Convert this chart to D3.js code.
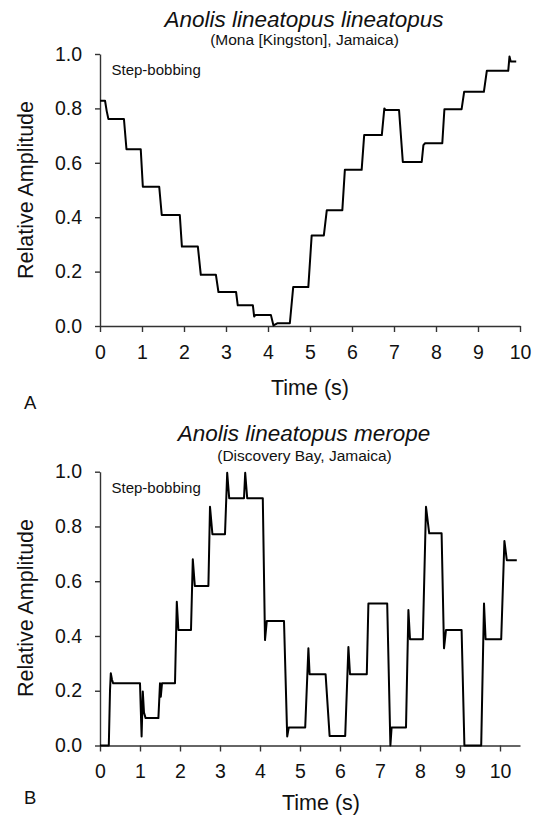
<!DOCTYPE html>
<html>
<head>
<meta charset="utf-8">
<script src="https://cdn.jsdelivr.net/npm/d3@7"></script>
<style>
  html, body { margin: 0; padding: 0; background: #fff; }
  svg { display: block; font-family: "Liberation Sans", Arial, Helvetica, sans-serif; }
</style>
</head>
<body>
<svg id="chart" width="536" height="816"></svg>
<script>
// ---------- DATA ----------
const xTicks = [0, 1, 2, 3, 4, 5, 6, 7, 8, 9, 10];
const yTicks = [0.0, 0.2, 0.4, 0.6, 0.8, 1.0];

// Panel A: Anolis lineatopus lineatopus
const topTime = [0.00, 0.12, 0.16, 0.20, 0.57, 0.63, 0.97, 1.02, 1.41, 1.47, 1.90, 1.95, 2.33, 2.40,
  2.76, 2.82, 3.24, 3.28, 3.64, 3.67, 3.70, 4.07, 4.13, 4.22, 4.52, 4.60, 4.96, 5.04, 5.33, 5.40,
  5.77, 5.83, 6.23, 6.29, 6.71, 6.77, 6.80, 7.12, 7.21, 7.66, 7.70, 7.74, 8.15, 8.20, 8.61, 8.67,
  9.14, 9.21, 9.72, 9.75, 9.78, 9.91];
const topAmp = [0.828, 0.828, 0.79, 0.761, 0.761, 0.650, 0.650, 0.512, 0.512, 0.408, 0.408, 0.292, 0.292, 0.188,
  0.188, 0.125, 0.125, 0.076, 0.076, 0.035, 0.040, 0.040, 0.002, 0.010, 0.010, 0.143, 0.143, 0.333, 0.333, 0.426,
  0.426, 0.574, 0.574, 0.702, 0.702, 0.800, 0.794, 0.794, 0.603, 0.603, 0.665, 0.672, 0.672, 0.797, 0.797, 0.861,
  0.861, 0.938, 0.938, 0.991, 0.972, 0.972];

// Panel B: Anolis lineatopus merope
const bottomTime = [0.00, 0.22, 0.25, 0.27, 0.30, 0.33, 1.00, 1.04, 1.07, 1.10, 1.14, 1.46, 1.50, 1.52, 1.55,
  1.875, 1.92, 1.96, 2.275, 2.32, 2.37, 2.71, 2.75, 2.81, 3.125, 3.18, 3.23, 3.60, 3.63, 3.68, 4.07, 4.125,
  4.17, 4.60, 4.68, 4.72, 5.13, 5.21, 5.24, 5.64, 5.74, 6.13, 6.21, 6.25, 6.67, 6.71, 7.18, 7.26, 7.29, 7.65,
  7.71, 7.75, 8.07, 8.15, 8.23, 8.54, 8.60, 8.65, 9.04, 9.11, 9.53, 9.60, 9.64, 10.03, 10.11, 10.17, 10.42];
const bottomAmp = [0.000, 0.000, 0.200, 0.264, 0.240, 0.227, 0.227, 0.033, 0.197, 0.120, 0.100, 0.100, 0.227, 0.178, 0.227,
  0.227, 0.525, 0.422, 0.422, 0.680, 0.583, 0.583, 0.872, 0.772, 0.772, 0.996, 0.903, 0.903, 0.996, 0.903, 0.903, 0.385,
  0.455, 0.455, 0.033, 0.066, 0.066, 0.355, 0.260, 0.260, 0.035, 0.035, 0.360, 0.260, 0.260, 0.519, 0.519, 0.000, 0.066, 0.066,
  0.495, 0.388, 0.388, 0.872, 0.775, 0.775, 0.355, 0.422, 0.422, 0.000, 0.000, 0.519, 0.388, 0.388, 0.747, 0.677, 0.677];

const panels = [
  { title: "Anolis lineatopus lineatopus", subtitle: "(Mona [Kingston], Jamaica)", letter: "A",
    time: topTime, amp: topAmp, xMax: 10,
    top: 54, bottom: 326, titleY: 26.5, subY: 44.5, xTitleX: 310, xTitleY: 395, letterY: 409, labelTextY: 190 },
  { title: "Anolis lineatopus merope", subtitle: "(Discovery Bay, Jamaica)", letter: "B",
    time: bottomTime, amp: bottomAmp, xMax: 10.5,
    top: 471.7, bottom: 745.5, titleY: 440.5, subY: 461, xTitleX: 321, xTitleY: 809.5, letterY: 804, labelTextY: 608 }
];

// ---------- DRAW ----------
const svg = d3.select("#chart");
const left = 100, right = 520;
const axisColor = "#333";

panels.forEach(p => {
  const x = d3.scaleLinear().domain([0, p.xMax]).range([left, right]);
  const y = d3.scaleLinear().domain([0, 1]).range([p.bottom, p.top]);
  const g = svg.append("g");

  const xa = g.append("g").attr("transform", `translate(0,${p.bottom})`)
    .call(d3.axisBottom(x).tickValues(xTicks).tickSize(6).tickSizeOuter(0).tickPadding(13).tickFormat(d3.format("d")));
  const ya = g.append("g").attr("transform", `translate(${left},0)`)
    .call(d3.axisLeft(y).tickValues(yTicks).tickSize(5).tickSizeOuter(0).tickPadding(13).tickFormat(d3.format(".1f")));

  [xa, ya].forEach(a => {
    a.select(".domain").attr("stroke", axisColor).attr("stroke-width", 1.4);
    a.selectAll(".tick line").attr("stroke", axisColor).attr("stroke-width", 1.4);
    a.selectAll(".tick text").attr("fill", "#111").attr("font-size", 19.5)
      .attr("font-family", '"Liberation Sans", Arial, sans-serif');
  });

  const pts = p.time.map((t, i) => [t, p.amp[i]]);
  g.append("path")
    .datum(pts)
    .attr("fill", "none")
    .attr("stroke", "#000")
    .attr("stroke-width", 2)
    .attr("stroke-linejoin", "round")
    .attr("d", d3.line().x(d => x(d[0])).y(d => y(d[1])));

  g.append("text").attr("x", 304).attr("y", p.titleY).attr("text-anchor", "middle")
    .attr("font-size", 22.5).attr("font-style", "italic").attr("fill", "#111").text(p.title);
  g.append("text").attr("x", 304.5).attr("y", p.subY).attr("text-anchor", "middle")
    .attr("font-size", 15.5).attr("fill", "#111").text(p.subtitle);

  g.append("text").attr("x", 111.5).attr("y", p.top + 21)
    .attr("font-size", 15).attr("fill", "#111").text("Step-bobbing");

  g.append("text").attr("x", p.xTitleX).attr("y", p.xTitleY).attr("text-anchor", "middle")
    .attr("font-size", 21.5).attr("fill", "#111").text("Time (s)");
  g.append("text").attr("transform", `translate(33,${p.labelTextY}) rotate(-90)`)
    .attr("text-anchor", "middle").attr("font-size", 21.5).attr("fill", "#111").text("Relative Amplitude");

  g.append("text").attr("x", 24).attr("y", p.letterY).attr("font-size", 18.5).attr("fill", "#111").text(p.letter);
});
</script>
</body>
</html>
